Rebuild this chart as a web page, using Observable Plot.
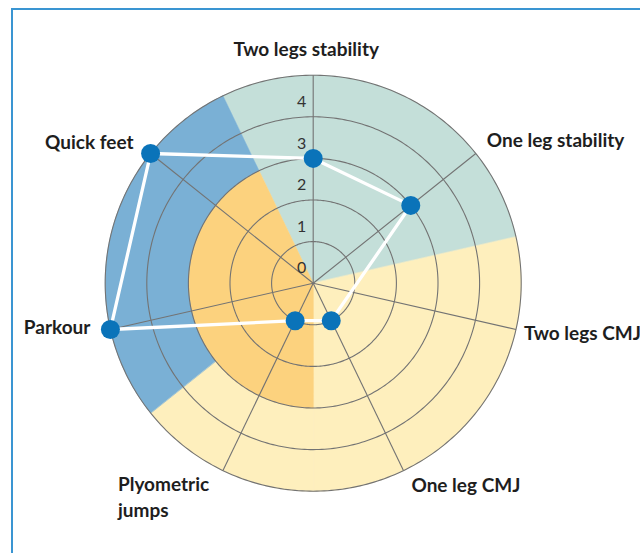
<!DOCTYPE html>
<html><head><meta charset="utf-8">
<script src="https://cdn.jsdelivr.net/npm/d3@7"></script>
<script src="https://cdn.jsdelivr.net/npm/@observablehq/plot@0.6"></script>
<style>
html,body{margin:0;padding:0;background:#fff;}
#wrap{position:relative;width:640px;height:553px;overflow:hidden;}
#frame{position:absolute;left:11px;top:8px;width:700px;height:700px;border-left:2px solid #3a95d2;border-top:2px solid #3a95d2;box-sizing:border-box;}
#chart{position:absolute;left:0;top:0;}
</style></head><body>
<div id="wrap"><div id="frame"></div><div id="chart"></div></div>
<script>
// ---- data ----
const categories = ["Two legs stability", "One leg stability", "Two legs CMJ", "One leg CMJ", "Plyometric\njumps", "Parkour", "Quick feet"];
const values = [3, 3, null, 1, 1, 5, 5];
const tickLabels = [0, 1, 2, 3, 4];
const ringValues = [1, 2, 3, 4, 5];
// background zones: sector index ranges (in category units) and value bands
const zoneFrom = [-0.5, 1.5, 3.5, 3.5, 4.5];
const zoneTo   = [ 1.5, 3.5, 4.5, 6.5, 6.5];
const zoneR0   = [0, 0, 3, 0, 3];
const zoneR1   = [5, 5, 5, 3, 5];
const zoneColor = ["#c4dfd9", "#feefbd", "#feefbd", "#fcd27e", "#7ab0d5"];

// ---- layout ----
const W = 640, H = 553, CX = 312.7, CY = 282.7, UNIT = 41.6, RMAX = 5;
const labelAnchor = ["middle", "start", "start", "start", "start", "end", "end"];
const labelDx = [-7, 11, 8, 8, -105, -20, -17];
const labelDy = [-28, -15, 2, 13, 25, -4, -13];

const N = categories.length;
const ang = i => i * 2 * Math.PI / N;
const pol = (i, v) => [v * Math.sin(ang(i)), v * Math.cos(ang(i))];

function arcPts(a0, a1, r) {
  const n = Math.max(2, Math.ceil(Math.abs(a1 - a0) * 360 / N));
  const pts = [];
  for (let k = 0; k <= n; k++) pts.push(pol(a0 + (a1 - a0) * k / n, r));
  return pts;
}
const zoneFeatures = zoneFrom.map((f, j) => {
  const outer = arcPts(f, zoneTo[j], zoneR1[j]);
  const inner = zoneR0[j] > 0 ? arcPts(zoneTo[j], f, zoneR0[j]) : [[0, 0]];
  const ring = [...outer, ...inner, outer[0]];
  return {type: "Feature", properties: {color: zoneColor[j]}, geometry: {type: "Polygon", coordinates: [ring]}};
});
const ringFeatures = ringValues.map(r => ({type: "Feature", geometry: {type: "LineString", coordinates: arcPts(0, N, r)}}));

const spokes = categories.map((c, i) => ({x1: 0, y1: 0, x2: pol(i, RMAX)[0], y2: pol(i, RMAX)[1]}));
const pts = categories.map((c, i) => values[i] == null ? null : {cat: c, x: pol(i, values[i])[0], y: pol(i, values[i])[1]}).filter(d => d);
const linePts = [...pts, pts[0]];
const ticks = tickLabels.map(t => ({t, x: 0, y: t + 0.36}));
const labels = categories.map((c, i) => {
  const [ex, ey] = pol(i, RMAX);
  return {text: c, anchor: labelAnchor[i], x: ex + labelDx[i] / UNIT, y: ey - labelDy[i] / UNIT};
});

const x0 = -CX / UNIT, x1 = (W - CX) / UNIT, y0 = -(H - CY) / UNIT, y1 = CY / UNIT;
const domain = {type: "Polygon", coordinates: [[[x0, y0], [x1, y0], [x1, y1], [x0, y1], [x0, y0]]]};

const font = "Lato, sans-serif";
const labelMarks = ["middle", "start", "end"].map(a =>
  Plot.text(labels.filter(d => d.anchor === a), {x: "x", y: "y", text: "text", textAnchor: a, fontSize: 19, fontWeight: 700, fill: "#1e1e1e", lineHeight: 1.37, fontFamily: font})
);

const chart = Plot.plot({
  width: W, height: H, margin: 0,
  projection: {type: "reflect-y", domain, inset: 0},
  style: {background: "transparent", fontFamily: font},
  marks: [
    Plot.geo(zoneFeatures, {fill: d => d.properties.color, stroke: d => d.properties.color, strokeWidth: 0.6}),
    Plot.geo(ringFeatures, {stroke: "#737373", strokeWidth: 1.1, fill: "none"}),
    Plot.link(spokes, {x1: "x1", y1: "y1", x2: "x2", y2: "y2", stroke: "#737373", strokeWidth: 1.1}),
    Plot.text(ticks, {x: "x", y: "y", text: "t", textAnchor: "end", dx: -7, fontSize: 16, fill: "#333", fontFamily: font}),
    ...labelMarks,
    Plot.line(linePts, {x: "x", y: "y", stroke: "white", strokeWidth: 3.3, curve: "linear"}),
    Plot.dot(pts, {x: "x", y: "y", r: 9.5, fill: "#0a73b9", stroke: "none"})
  ]
});
document.getElementById("chart").appendChild(chart);
</script>
</body></html>
